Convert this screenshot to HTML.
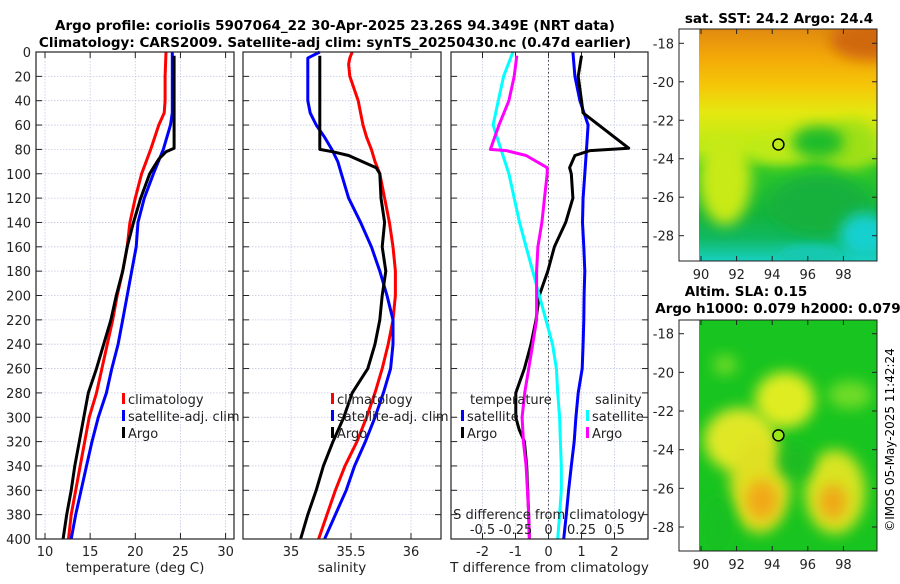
<!DOCTYPE html>
<html><head><meta charset="utf-8">
<style>
html,body{margin:0;padding:0;background:#fff;}
body{width:900px;height:580px;overflow:hidden;font-family:"DejaVu Sans","Liberation Sans",sans-serif;}
svg text{font-family:"DejaVu Sans","Liberation Sans",sans-serif;}
</style></head>
<body>
<svg id="chart" width="900" height="580" viewBox="0 0 900 580" xmlns="http://www.w3.org/2000/svg">
<defs>
<filter id="blur6" x="-50%" y="-50%" width="200%" height="200%"><feGaussianBlur stdDeviation="7"/></filter>
<filter id="blur4" x="-50%" y="-50%" width="200%" height="200%"><feGaussianBlur stdDeviation="4"/></filter>
<clipPath id="clipTop"><rect x="699" y="29" width="178" height="232"/></clipPath>
<clipPath id="clipBot"><rect x="699" y="320" width="178" height="231"/></clipPath>
<linearGradient id="sstGrad" x1="0" y1="0" x2="0" y2="1">
<stop offset="0" stop-color="#e08a10"/>
<stop offset="0.12" stop-color="#f3a808"/>
<stop offset="0.25" stop-color="#f5c808"/>
<stop offset="0.36" stop-color="#e4e810"/>
<stop offset="0.52" stop-color="#b8ea18"/>
<stop offset="0.6" stop-color="#30c828"/>
<stop offset="0.8" stop-color="#12b43c"/>
<stop offset="0.9" stop-color="#10b860"/>
<stop offset="1" stop-color="#18cfc0"/>
</linearGradient>
</defs>
<g id="titles">
<text x="335" y="30" font-size="13.5" font-weight="bold" text-anchor="middle">Argo profile: coriolis 5907064_22 30-Apr-2025 23.26S 94.349E (NRT data)</text>
<text x="335" y="47" font-size="13.5" font-weight="bold" text-anchor="middle">Climatology: CARS2009. Satellite-adj clim: synTS_20250430.nc (0.47d earlier)</text>
</g>
<g id="panels"></g>
<g id="maps">
<text x="779" y="23" font-size="13.5" font-weight="bold" text-anchor="middle">sat. SST: 24.2 Argo: 24.4</text>
<g clip-path="url(#clipTop)">
<rect x="699" y="29" width="178" height="232" fill="url(#sstGrad)"/>
<ellipse cx="870" cy="40" rx="40" ry="20" fill="#d06808" filter="url(#blur6)"/>
<ellipse cx="725" cy="180" rx="26" ry="45" fill="#c8ea18" filter="url(#blur6)"/>
<ellipse cx="780" cy="150" rx="30" ry="14" fill="#c0ea18" filter="url(#blur6)"/>
<ellipse cx="850" cy="145" rx="28" ry="25" fill="#9ee018" filter="url(#blur6)"/>
<ellipse cx="818" cy="142" rx="26" ry="16" fill="#1cbc2c" filter="url(#blur6)"/>
<ellipse cx="820" cy="205" rx="50" ry="30" fill="#14b03c" filter="url(#blur6)"/>
<ellipse cx="865" cy="235" rx="25" ry="22" fill="#18d0d0" filter="url(#blur6)"/>
<ellipse cx="810" cy="255" rx="30" ry="10" fill="#16c8b0" filter="url(#blur4)"/>
</g>
<rect x="679" y="29" width="198" height="232" fill="none" stroke="#222" stroke-width="1"/>
<text x="746" y="296" font-size="13.5" font-weight="bold" text-anchor="middle">Altim. SLA: 0.15</text>
<text x="778" y="313" font-size="13.5" font-weight="bold" text-anchor="middle">Argo h1000: 0.079 h2000: 0.079</text>
<g clip-path="url(#clipBot)">
<rect x="699" y="320" width="178" height="231" fill="#18c420"/>
<ellipse cx="785" cy="400" rx="30" ry="28" fill="#e0ec20" filter="url(#blur6)"/>
<ellipse cx="740" cy="440" rx="36" ry="32" fill="#e0e828" filter="url(#blur6)"/>
<ellipse cx="760" cy="485" rx="30" ry="48" fill="#e0e020" filter="url(#blur6)"/>
<ellipse cx="762" cy="500" rx="16" ry="20" fill="#f2a818" filter="url(#blur6)"/>
<ellipse cx="835" cy="492" rx="30" ry="42" fill="#d8e420" filter="url(#blur6)"/>
<ellipse cx="833" cy="502" rx="14" ry="18" fill="#f0a818" filter="url(#blur6)"/>
<ellipse cx="795" cy="462" rx="18" ry="18" fill="#1cbc20" filter="url(#blur6)"/>
<ellipse cx="718" cy="525" rx="14" ry="30" fill="#18c020" filter="url(#blur6)"/>
<ellipse cx="850" cy="395" rx="22" ry="14" fill="#70dc28" filter="url(#blur6)"/>
<ellipse cx="725" cy="365" rx="12" ry="10" fill="#70dc28" filter="url(#blur6)"/>
</g>
<rect x="679" y="320" width="198" height="231" fill="none" stroke="#222" stroke-width="1"/>
<text transform="translate(894,440) rotate(-90)" font-size="12" text-anchor="middle">©IMOS 05-May-2025 11:42:24</text>
</g>
</svg>
<script>
// ---- data ----
const tempDepth = [0,20,40,50,60,80,100,120,140,160,180,200,220,240,260,280,300,320,340,360,380,400];
const tempClim  = [23.4,23.3,23.3,23.2,22.6,21.7,20.7,20.0,19.4,19.1,18.6,18.0,17.5,16.9,16.3,15.7,14.9,14.4,13.9,13.4,12.9,12.6];
const tempSat   = [24.1,24.1,24.1,24.1,23.9,23.1,22.0,21.0,20.3,20.1,19.6,19.1,18.6,18.1,17.4,16.8,15.9,15.2,14.6,14.0,13.4,12.9];
const argoDepth = [3,20,40,60,79,82,88,95,100,120,140,160,180,200,220,240,260,280,300,320,340,360,380,400];
const argoTemp  = [24.3,24.3,24.3,24.3,24.3,23.4,22.6,22.0,21.6,20.6,19.8,19.1,18.6,17.9,17.3,16.5,15.7,14.8,14.3,13.8,13.3,12.9,12.4,12.0];
const salDepth  = [0,5,10,20,40,50,60,70,80,90,100,120,140,160,180,200,220,240,260,280,300,320,340,360,380,400];
const salClim   = [35.51,35.49,35.48,35.49,35.56,35.58,35.60,35.63,35.67,35.70,35.74,35.78,35.82,35.85,35.87,35.87,35.85,35.81,35.76,35.70,35.63,35.55,35.45,35.37,35.30,35.23];
const salSat    = [35.24,35.14,35.14,35.14,35.14,35.16,35.21,35.28,35.34,35.39,35.42,35.48,35.58,35.67,35.74,35.80,35.85,35.85,35.83,35.77,35.70,35.62,35.53,35.46,35.37,35.28];
const argoSal   = [35.24,35.24,35.24,35.24,35.24,35.35,35.48,35.71,35.74,35.75,35.78,35.76,35.79,35.76,35.74,35.70,35.64,35.51,35.44,35.35,35.27,35.21,35.14,35.08];
const argoSalDepth = [3,20,40,60,80,82,85,95,100,120,140,160,180,200,220,240,260,280,300,320,340,360,380,400];
const dDepth    = [0,20,40,60,80,100,120,140,160,180,200,220,240,260,280,300,320,340,360,380,400];
const dTempSat  = [0.74,0.80,0.95,1.20,1.15,1.10,1.05,1.03,1.07,1.10,1.08,1.07,1.05,1.02,0.90,0.83,0.78,0.69,0.61,0.54,0.46];
const dArgoDepth= [3,20,40,50,79,81,85,95,100,120,140,160,180,200,220,240,260,280,300,310,320,340,360,380,400];
const dTempArgo = [1.00,0.90,1.00,1.05,2.43,1.26,0.80,0.64,0.69,0.74,0.52,0.18,-0.02,-0.28,-0.38,-0.53,-0.73,-0.99,-0.99,-0.89,-0.73,-0.66,-0.63,-0.60,-0.58];
const dSalSat   = [-0.27,-0.34,-0.38,-0.42,-0.36,-0.30,-0.26,-0.22,-0.17,-0.12,-0.07,-0.02,0.03,0.06,0.07,0.084,0.09,0.097,0.097,0.084,0.07];
const dSalArgo  = [-0.24,-0.26,-0.30,-0.375,-0.44,-0.32,-0.17,-0.01,-0.01,-0.03,-0.05,-0.08,-0.09,-0.09,-0.09,-0.12,-0.15,-0.18,-0.20,-0.19,-0.17,-0.16,-0.15,-0.145];
const dSalArgoDepth = [3,20,40,60,80,81,85,95,100,120,140,160,180,200,220,240,260,280,300,320,340,360,380,400];
const depthTicks = [0,20,40,60,80,100,120,140,160,180,200,220,240,260,280,300,320,340,360,380,400];
const tempTicks = [10,15,20,25,30];
const salTicks = [35,35.5,36];
const dTempTicks = [-2,-1,0,1,2];
const dSalTicks = [-0.5,-0.25,0,0.25,0.5];
const latTicks = [-18,-20,-22,-24,-26,-28];
const lonTicks = [90,92,94,96,98];
const argoLon = 94.349, argoLat = -23.26;

// ---- axes ----
const NS="http://www.w3.org/2000/svg";
const yD = d => 52 + d*487/400;
const xT = t => 45 + (t-10)*9.03;
const xS = s => 291 + (s-35)*120;
const xDT = t => 548.5 + t*33;
const xDS = s => 548.5 + s*132;
const lonX = l => 701 + (l-90)*17.8;
const latYTop = la => 43.3 + (-18-la)*19.24;
const latYBot = la => 333.7 + (-18-la)*19.33;
const root=document.getElementById('panels');
function el(tag,attrs,parent){const e=document.createElementNS(NS,tag);for(const k in attrs)e.setAttribute(k,attrs[k]);(parent||root).appendChild(e);return e;}
function txt(s,attrs,parent){const e=el('text',attrs,parent);e.textContent=s;return e;}

function panel(name,x0,x1,xt,xf,xlabels,title,showDepth){
  const g=el('g',{});
  
  
  depthTicks.forEach(d=>{
    el('line',{x1:x0,x2:x1,y1:yD(d),y2:yD(d),stroke:'#c4c8e4','stroke-width':0.8,'stroke-dasharray':'1.5,1.5'},g);
    el('line',{x1:x0,x2:x0+6,y1:yD(d),y2:yD(d),stroke:'#222'},g);
    el('line',{x1:x1-6,x2:x1,y1:yD(d),y2:yD(d),stroke:'#222'},g);
    if(showDepth){const t=txt(String(d),{x:31,y:yD(d)+5,'font-size':13,'text-anchor':'end',fill:'#222'},g);
      
      }
  });
  xt.forEach((v,i)=>{
    const x=xf(v);
    el('line',{x1:x,x2:x,y1:52,y2:539,stroke:'#c4c8e4','stroke-width':0.8,'stroke-dasharray':'1.5,1.5'},g);
    el('line',{x1:x,x2:x,y1:52,y2:58,stroke:'#222'},g);
    el('line',{x1:x,x2:x,y1:533,y2:539,stroke:'#222'},g);
    const t=txt(xlabels[i],{x:x,y:556,'font-size':13,'text-anchor':'middle',fill:'#222'},g);
    
    
  });
  const at=txt(title,{x:(x0+x1)/2,y:572,'font-size':13.5,'text-anchor':'middle',fill:'#222'},g);
  
  
  return g;
}
function line(g,name,xs,ds,xf,color){
  const pts=xs.map((v,i)=>xf(v).toFixed(1)+','+yD(ds[i]).toFixed(1)).join(' ');
  const p=el('polyline',{points:pts,fill:'none',stroke:color,'stroke-width':3,'stroke-linejoin':'round'},g);
  
  
}
function frame(g,x0,x1){el('rect',{x:x0,y:52,width:x1-x0,height:487,fill:'none',stroke:'#222','stroke-width':1.2},g);}
function legItem(g,x,y,color,label){
  el('rect',{x:x,y:y-8,width:3,height:11,fill:color},g);
  const t=txt(label,{x:x+6,y:y+3,'font-size':13,fill:'#222'},g);
  
  
}

// panel 1
const g1=panel('temperature-panel',36,234,tempTicks,xT,tempTicks.map(String),'temperature (deg C)',true);
line(g1,'temp-climatology-line',tempClim,tempDepth,xT,'#ff0000');
line(g1,'temp-satellite-line',tempSat,tempDepth,xT,'#0000ff');
line(g1,'temp-argo-line',argoTemp,argoDepth,xT,'#000000');
frame(g1,36,234);
legItem(g1,122,401,'#ff0000','climatology');
legItem(g1,122,418,'#0000ff','satellite-adj. clim');
legItem(g1,122,435,'#000000','Argo');

// panel 2
const g2=panel('salinity-panel',243,441,salTicks,xS,['35','35.5','36'],'salinity',false);
line(g2,'sal-climatology-line',salClim,salDepth,xS,'#ff0000');
line(g2,'sal-satellite-line',salSat,salDepth,xS,'#0000ff');
line(g2,'sal-argo-line',argoSal,argoSalDepth,xS,'#000000');
frame(g2,243,441);
legItem(g2,331,401,'#ff0000','climatology');
legItem(g2,331,418,'#0000ff','satellite-adj. clim');
legItem(g2,331,435,'#000000','Argo');

// panel 3
const g3=panel('difference-panel',451,648,dTempTicks,xDT,dTempTicks.map(String),'T difference from climatology',false);
el('line',{x1:548.5,x2:548.5,y1:52,y2:539,stroke:'#444','stroke-width':1,'stroke-dasharray':'1.5,2.5'},g3);
line(g3,'dtemp-satellite-line',dTempSat,dDepth,xDT,'#0000ff');
line(g3,'dtemp-argo-line',dTempArgo,dArgoDepth,xDT,'#000000');
line(g3,'dsal-satellite-line',dSalSat,dDepth,xDS,'#00ffff');
line(g3,'dsal-argo-line',dSalArgo,dSalArgoDepth,xDS,'#ff00ff');
frame(g3,451,648);
txt('temperature',{x:470,y:404,'font-size':13,fill:'#222'},g3);
txt('salinity',{x:595,y:404,'font-size':13,fill:'#222'},g3);
legItem(g3,461,418,'#0000ff','satellite');
legItem(g3,461,435,'#000000','Argo');
legItem(g3,586,418,'#00ffff','satellite');
legItem(g3,586,435,'#ff00ff','Argo');
const sdl=txt('S difference from climatology',{x:549,y:519,'font-size':13,'text-anchor':'middle',fill:'#222'},g3);


dSalTicks.forEach(v=>{
  const t=txt(String(v),{x:xDS(v),y:534,'font-size':13,'text-anchor':'middle',fill:'#222'},g3);
  
  
});

// maps axes
const mg=document.getElementById('maps');
function mapAxes(latY,yBot,yTop){
  latTicks.forEach(la=>{
    const y=latY(la);
    el('line',{x1:679,x2:684,y1:y,y2:y,stroke:'#222'},mg);
    el('line',{x1:872,x2:877,y1:y,y2:y,stroke:'#222'},mg);
    const t=txt(String(la),{x:674,y:y+5,'font-size':13,'text-anchor':'end',fill:'#222'},mg);
    
    
  });
  lonTicks.forEach(lo=>{
    const x=lonX(lo);
    el('line',{x1:x,x2:x,y1:yBot-5,y2:yBot,stroke:'#222'},mg);
    el('line',{x1:x,x2:x,y1:yTop,y2:yTop+5,stroke:'#222'},mg);
    const t=txt(String(lo),{x:x,y:yBot+18,'font-size':13,'text-anchor':'middle',fill:'#222'},mg);
    
    
  });
}
mapAxes(latYTop,261,29);
mapAxes(latYBot,551,320);
const c1=el('circle',{cx:lonX(argoLon),cy:latYTop(argoLat),r:5.5,fill:'none',stroke:'#000','stroke-width':1.5},mg);


const c2=el('circle',{cx:lonX(argoLon),cy:latYBot(argoLat),r:5.5,fill:'#9be818',stroke:'#000','stroke-width':1.5},mg);


</script>
</body></html>
